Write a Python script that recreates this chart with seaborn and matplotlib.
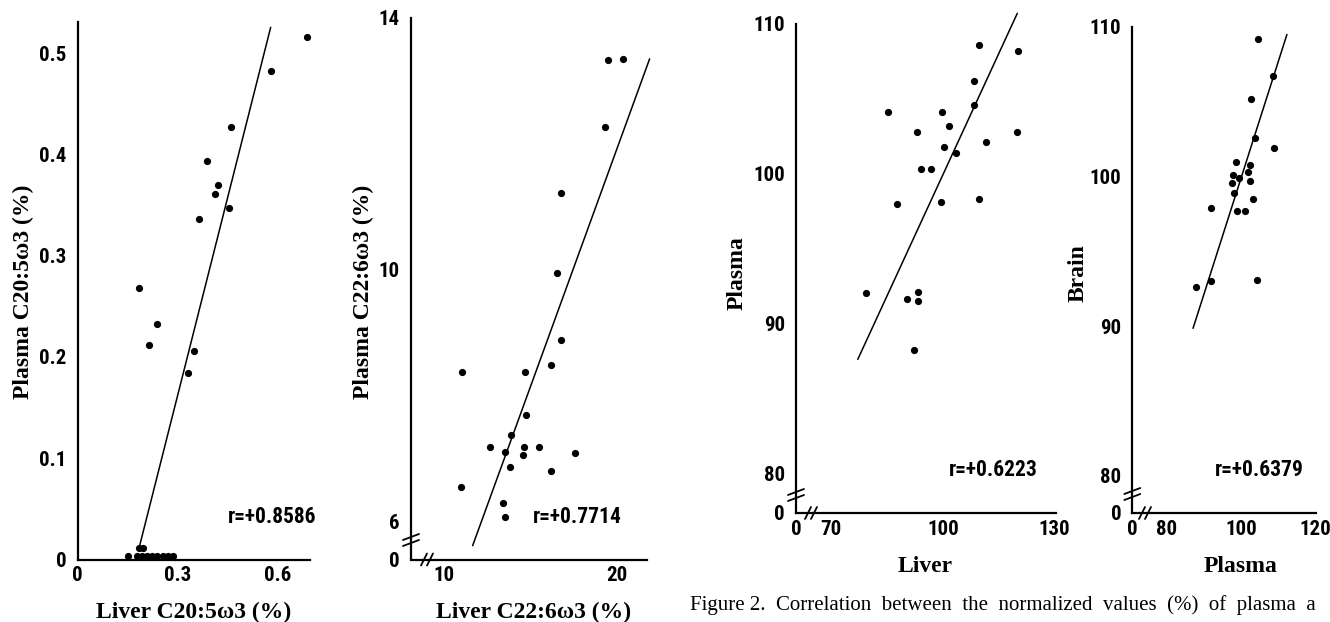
import numpy as np
import pandas as pd
import matplotlib
matplotlib.use("Agg")
import matplotlib.pyplot as plt
import seaborn as sns
from matplotlib.lines import Line2D

# Panel A: liver vs plasma C20:5w3 (%)
epa_liver = [0.688, 0.579, 0.461, 0.388, 0.420, 0.411, 0.453, 0.364, 0.183, 0.238, 0.215, 0.350, 0.330,
             0.185, 0.197, 0.151, 0.177, 0.192, 0.207, 0.222, 0.237, 0.257, 0.272, 0.287]
epa_plasma = [0.516, 0.482, 0.427, 0.394, 0.370, 0.361, 0.347, 0.336, 0.268, 0.233, 0.212, 0.206, 0.184,
              0.011, 0.011, 0.003, 0.003, 0.003, 0.003, 0.003, 0.003, 0.003, 0.003, 0.003]
epa_fit_x = [0.185, 0.579]
epa_fit_y = [0.0125, 0.5255]

# Panel B: liver vs plasma C22:6w3 (%)
dha_liver = [19.51, 20.39, 19.31, 16.76, 16.57, 16.76, 16.18, 11.08, 14.71, 14.75, 13.88, 12.69, 13.57,
             14.67, 15.49, 14.57, 17.61, 13.82, 16.22, 11.02, 13.43, 13.57]
dha_plasma = [13.33, 13.35, 12.26, 11.22, 9.95, 8.88, 8.49, 8.38, 8.38, 7.69, 7.37, 7.18, 7.10,
              7.18, 7.18, 7.06, 7.09, 6.87, 6.80, 6.55, 6.30, 6.08]
dha_fit_x = [11.67, 21.92]
dha_fit_y = [5.62, 13.35]

# Panel C: normalized liver vs plasma (%)
norm_liver = [85.1, 93.1, 99.8, 101.6, 100.4, 103.4, 108.3, 109.8, 108.3, 120.3, 120.0, 111.7, 94.2,
              96.9, 87.6, 99.4, 109.8, 79.2, 93.4, 93.4, 90.3, 92.3]
norm_plasma = [104.1, 102.8, 104.1, 103.2, 101.8, 101.4, 106.2, 108.6, 104.6, 108.2, 102.8, 102.1, 100.3,
               100.3, 98.0, 98.1, 98.3, 92.0, 92.1, 91.5, 91.6, 88.2]
lp_fit_x = [77.1, 120.0]
lp_fit_y = [87.6, 110.7]

# Panel D: normalized plasma vs brain (%)
norm_plasma_b = [104.5, 108.6, 102.7, 103.6, 108.8, 98.6, 102.5, 97.7, 101.8, 97.6, 99.5, 102.4, 98.2,
                 103.2, 91.9, 98.8, 101.1, 87.8, 91.9, 104.2]
norm_brain = [109.2, 106.7, 105.2, 102.6, 101.9, 101.0, 100.8, 100.1, 100.3, 99.6, 99.9, 99.7, 98.9,
              98.5, 97.9, 97.7, 97.7, 92.6, 93.0, 93.1]
pb_fit_x = [87.1, 112.3]
pb_fit_y = [89.85, 109.5]

r_labels = ["r=+0.8586", "r=+0.7714", "r=+0.6223", "r=+0.6379"]

W, H = 1330, 622
TICK_FONT = ["Roboto Condensed", "Liberation Sans Narrow", "DejaVu Sans"]
SERIF = ["Liberation Serif", "DejaVu Serif"]

sns.set_style("white")
plt.rcParams["font.family"] = SERIF
for key in ("text.color", "axes.labelcolor", "xtick.color", "ytick.color"):
    plt.rcParams[key] = "black"

fig = plt.figure(figsize=(W / 100, H / 100), dpi=100)


def make_axes(left, right, top, bottom):
    # pixel box (from the top-left corner) -> figure fraction
    return fig.add_axes([left / W, (H - bottom) / H, (right - left) / W, (bottom - top) / H])


def axis_break(x, y, vertical):
    # two short slanted strokes drawn over an axis line
    for d in (-3, 3):
        if vertical:
            xs = [x - 8, x + 8]
            ys = [y + d + 3, y + d - 3]
        else:
            xs = [x + d - 3, x + d + 3]
            ys = [y + 6, y - 6]
        fig.add_artist(Line2D(xs, [H - v for v in ys], transform=None, color="black", lw=1.3))


def panel(ax, x, y, fit_x, fit_y, xlim, ylim, xticks, xlabels, yticks, ylabels):
    df = pd.DataFrame({"x": x, "y": y})
    sns.scatterplot(data=df, x="x", y="y", ax=ax, color="black", s=27, linewidth=0, clip_on=False)
    sns.lineplot(x=fit_x, y=fit_y, ax=ax, color="black", lw=1.1, clip_on=False)
    ax.set_xlim(xlim)
    ax.set_ylim(ylim)
    sns.despine(ax=ax)
    for side in ("left", "bottom"):
        ax.spines[side].set_color("black")
        ax.spines[side].set_linewidth(1.6)
    tick_kw = dict(fontfamily=TICK_FONT, fontstretch="condensed", fontweight="bold", fontsize=15)
    ax.set_xticks(xticks, xlabels, **tick_kw)
    ax.set_yticks(yticks, ylabels, **tick_kw)
    ax.tick_params(axis="x", direction="in", length=6, width=1.3, color="black", pad=5)
    ax.tick_params(axis="y", direction="inout", length=8, width=1.3, color="black", pad=4)


def labels(ax, box, xlab, xpos, ylab, ypos):
    left, right, top, bottom = box
    w, h = right - left, bottom - top
    ax.set_xlabel(xlab, fontfamily=SERIF, fontweight="bold", fontsize=17, va="center")
    ax.xaxis.set_label_coords((xpos[0] - left) / w, (bottom - xpos[1]) / h)
    ax.set_ylabel(ylab, fontfamily=SERIF, fontweight="bold", fontsize=17, va="center")
    ax.yaxis.set_label_coords((ypos[0] - left) / w, (bottom - ypos[1]) / h)


# Panel A
box1 = (77.7, 310, 21.8, 559.5)
ax1 = make_axes(*box1)
panel(ax1, epa_liver, epa_plasma, epa_fit_x, epa_fit_y, (0, 0.697), (0, 0.531),
      [0, 0.3, 0.6], ["0", "0.3", "0.6"],
      [0, 0.1, 0.2, 0.3, 0.4, 0.5], ["0", "0.1", "0.2", "0.3", "0.4", "0.5"])
labels(ax1, box1, "Liver C20:5\u03c93 (%)", (194, 612), "Plasma C20:5\u03c93 (%)", (23, 292))

# Panel B
box2 = (411, 646.7, 17.9, 559.5)
ax2 = make_axes(*box2)
panel(ax2, dha_liver, dha_plasma, dha_fit_x, dha_fit_y, (8.1, 21.75), (5.4, 14.0),
      [10, 20], ["10", "20"], [5.4, 6, 10, 14], ["0", "6", "10", "14"])
labels(ax2, box2, "Liver C22:6\u03c93 (%)", (534, 612), "Plasma C22:6\u03c93 (%)", (363, 292))
axis_break(411, 540, True)
axis_break(427, 559.5, False)

# Panel C
box3 = (796, 1056, 23.8, 513)
ax3 = make_axes(*box3)
panel(ax3, norm_liver, norm_plasma, lp_fit_x, lp_fit_y, (60.5, 130.4), (77.35, 110.0),
      [60.5, 70, 100, 130], ["0", "70", "100", "130"],
      [77.35, 80, 90, 100, 110], ["0", "80", "90", "100", "110"])
labels(ax3, box3, "Liver", (925, 567), "Plasma", (737, 273))
axis_break(796, 495, True)
axis_break(811, 513, False)

# Panel D
box4 = (1132.3, 1316, 27, 513)
ax4 = make_axes(*box4)
panel(ax4, norm_plasma_b, norm_brain, pb_fit_x, pb_fit_y, (70.8, 120.1), (77.5, 110.0),
      [70.8, 80, 100, 120], ["0", "80", "100", "120"],
      [77.5, 80, 90, 100, 110], ["0", "80", "90", "100", "110"])
labels(ax4, box4, "Plasma", (1241, 567), "Brain", (1078, 273))
axis_break(1132.3, 494, True)
axis_break(1145, 513, False)

# correlation coefficients
for lab, (x, y) in zip(r_labels, [(228, 517), (533, 517), (949, 470), (1215, 470)]):
    fig.text(x / W, (H - y) / H, lab, fontfamily=TICK_FONT, fontstretch="condensed",
             fontweight="bold", fontsize=15.5, va="center", ha="left")

fig.text(690 / W, (H - 605) / H,
         "Figure 2.  Correlation  between  the  normalized  values  (%)  of  plasma  a",
         fontfamily=SERIF, fontsize=15, va="center", ha="left")

fig.savefig("out.png", dpi=100)
